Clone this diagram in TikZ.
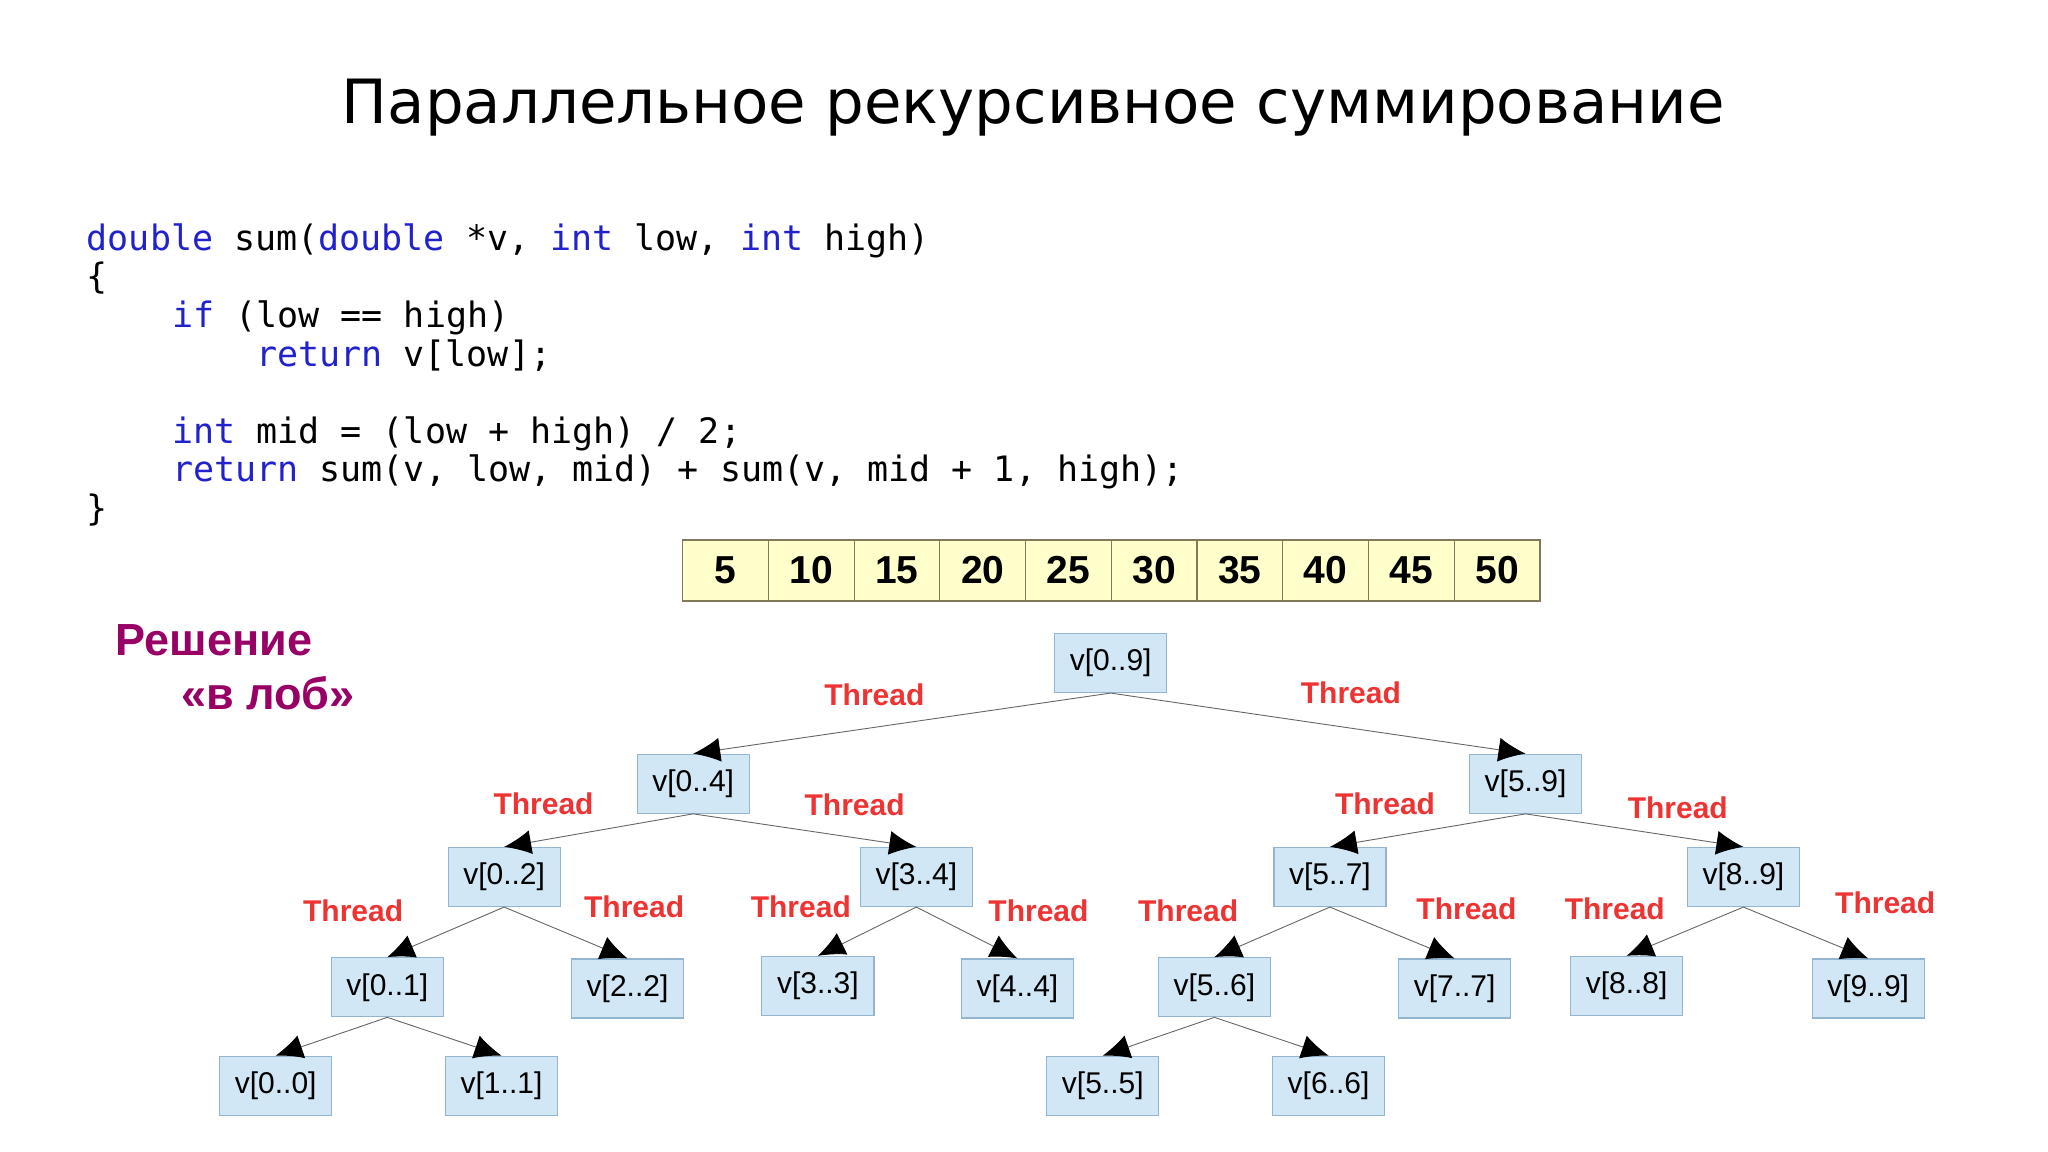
\documentclass[tikz,border=0pt]{standalone}
\usepackage{fontspec}
\setmainfont{Liberation Sans}
\newfontfamily\titlefont{DejaVu Sans}
\newfontfamily\codefont{DejaVu Sans Mono}
\usetikzlibrary{arrows.meta}
\definecolor{kw}{HTML}{2222CC}
\definecolor{thr}{HTML}{EE3333}
\definecolor{purp}{HTML}{990066}
\definecolor{nfill}{HTML}{D2E7F5}
\definecolor{ndraw}{HTML}{93B5CF}
\definecolor{cfill}{HTML}{FFFFCC}
\definecolor{cdraw}{HTML}{807A5A}
\tikzset{
 vnode/.style={draw=ndraw,fill=nfill,line width=1.2pt,minimum width=112pt,minimum height=59pt,inner sep=0pt,font=\fontsize{30}{30}\selectfont},
 cell/.style={draw=cdraw,fill=cfill,line width=1.2pt,minimum width=85.7pt,minimum height=61pt,inner sep=0pt,font=\fontsize{39}{39}\selectfont\bfseries},
 thread/.style={text=thr,font=\fontsize{30}{30}\selectfont\bfseries},
 codeline/.style={anchor=base west,inner sep=0pt,font=\codefont\fontsize{35}{35}\selectfont},
 edge/.style={draw=gray!80!black,line width=0.9pt,-{Latex[length=27pt,width=24pt,black]}}
}
\newcommand{\kw}[1]{\textcolor{kw}{#1}}
\begin{document}
\begin{tikzpicture}[x=1.3128pt,y=-1.3128pt]
\useasboundingbox (0,0) rectangle (1560,877.5);
\node[font=\titlefont\fontsize{61}{61}\selectfont] (title) at (787,82) {Параллельное рекурсивное суммирование};
% code
\node[codeline] (c1) at (66,191) {\kw{double} sum(\kw{double} *v, \kw{int} low, \kw{int} high)};
\node[codeline] (c2) at (66,220) {\{};
\node[codeline] (c3) at (131,249.5) {\kw{if} (low == high)};
\node[codeline] (c4) at (195,279) {\kw{return} v[low];};
\node[codeline] (c5) at (131,338) {\kw{int} mid = (low + high) / 2;};
\node[codeline] (c6) at (131,367) {\kw{return} sum(v, low, mid) + sum(v, mid + 1, high);};
\node[codeline] (c7) at (66,396.5) {\}};
% array
\foreach \v [count=\i] in {5,10,15,20,25,30,35,40,45,50}{
  \node[cell] (a\i) at ({520+65.3*(\i-0.5)},434.5) {\v};
}
% heading
\node[text=purp,font=\fontsize{45}{45}\selectfont\bfseries] (r1) at (163,488) {Решение};
\node[text=purp,font=\fontsize{45}{45}\selectfont\bfseries] (r2) at (204,528) {«в лоб»};
% tree
\node[vnode] (n09) at (846,505) {v[0..9]};
\node[vnode] (n04) at (528,597) {v[0..4]};
\node[vnode] (n59) at (1162,597) {v[5..9]};
\node[vnode] (n02) at (384,668) {v[0..2]};
\node[vnode] (n34) at (698,668) {v[3..4]};
\node[vnode] (n57) at (1013,668) {v[5..7]};
\node[vnode] (n89) at (1328,668) {v[8..9]};
\node[vnode] (n01) at (295,752) {v[0..1]};
\node[vnode] (n22) at (478,753) {v[2..2]};
\node[vnode] (n33) at (623,751) {v[3..3]};
\node[vnode] (n44) at (775,753) {v[4..4]};
\node[vnode] (n56) at (925,752) {v[5..6]};
\node[vnode] (n77) at (1108,753) {v[7..7]};
\node[vnode] (n88) at (1239,751) {v[8..8]};
\node[vnode] (n99) at (1423,753) {v[9..9]};
\node[vnode] (n00) at (210,827) {v[0..0]};
\node[vnode] (n11) at (382,827) {v[1..1]};
\node[vnode] (n55) at (840,827) {v[5..5]};
\node[vnode] (n66) at (1012,827) {v[6..6]};
\foreach \p/\c in {n09/n04,n09/n59,n04/n02,n04/n34,n59/n57,n59/n89,n02/n01,n02/n22,n34/n33,n34/n44,n57/n56,n57/n77,n89/n88,n89/n99,n01/n00,n01/n11,n56/n55,n56/n66}{
  \draw[edge] (\p.south) -- (\c.north);
}
% thread labels
\foreach \x/\y [count=\k] in {666/529,1029/528,414/612,651/613,1055/612,1278/615,269/694,483/691,610/691,791/694,905/694,1117/692,1230/692,1436/688}{
  \node[thread] (t\k) at (\x,\y) {Thread};
}
\end{tikzpicture}
\end{document}
